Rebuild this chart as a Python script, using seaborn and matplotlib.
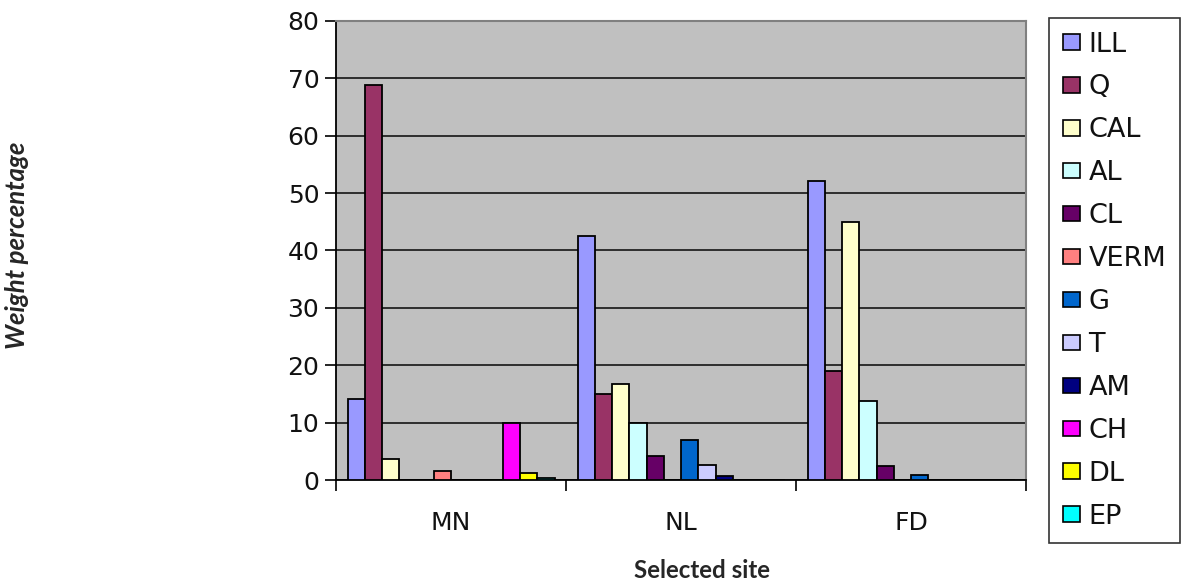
import numpy as np
import pandas as pd
import matplotlib
matplotlib.use("Agg")
import matplotlib.pyplot as plt
import seaborn as sns
from matplotlib.patches import Patch

# Mineral composition (weight %) at each selected site
sites = ["MN", "NL", "FD"]
minerals = ["ILL", "Q", "CAL", "AL", "CL", "VERM", "G", "T", "AM", "CH", "DL", "EP"]
mn_values = [14.1, 68.9, 3.7, 0.0, 0.0, 1.5, 0.0, 0.0, 0.0, 10.0, 1.2, 0.3]
nl_values = [42.6, 15.0, 16.8, 10.0, 4.2, 0.0, 7.0, 2.7, 0.7, 0.0, 0.0, 0.0]
fd_values = [52.2, 19.0, 45.0, 13.7, 2.4, 0.0, 0.9, 0.0, 0.0, 0.0, 0.0, 0.0]
mineral_colors = ["#9999FF", "#993366", "#FFFFCC", "#CCFFFF", "#660066", "#FF8080",
                  "#0066CC", "#CCCCFF", "#000080", "#FF00FF", "#FFFF00", "#00FFFF"]
y_ticks = [0, 10, 20, 30, 40, 50, 60, 70, 80]

rows = []
for site, vals in zip(sites, [mn_values, nl_values, fd_values]):
    for m, v in zip(minerals, vals):
        rows.append({"site": site, "mineral": m, "value": v})
df = pd.DataFrame(rows)

sns.set_theme(style="white")
plt.rcParams["font.family"] = ["DejaVu Sans"]

fig = plt.figure(figsize=(11.97, 5.84), dpi=100)
ax = fig.add_axes([336 / 1197, 1 - 480 / 584, 690 / 1197, 459 / 584])
ax.set_facecolor("#C0C0C0")

sns.barplot(data=df, x="site", y="value", hue="mineral", order=sites,
            hue_order=minerals, palette=mineral_colors, width=0.9, gap=0,
            edgecolor="black", linewidth=1.3, saturation=1, legend=False,
            errorbar=None, ax=ax, zorder=3)

ax.set_ylim(0, 80)
ax.set_xlim(-0.5, 2.5)
ax.set_yticks(y_ticks)
ax.yaxis.grid(True, color="#222222", linewidth=1.3, zorder=0)
ax.set_axisbelow(True)
ax.set_xlabel("")
ax.set_ylabel("")

for side in ["left", "bottom"]:
    ax.spines[side].set_color("black")
    ax.spines[side].set_linewidth(1.3)
for side in ["top", "right"]:
    ax.spines[side].set_color("#808080")
    ax.spines[side].set_linewidth(1.5)

ax.tick_params(axis="y", which="major", direction="out", length=8, width=1.2,
               color="black", labelsize=18, pad=4, left=True, labelcolor="#111111")
ax.tick_params(axis="x", which="major", length=0, labelsize=18, pad=22,
               labelcolor="#111111")
ax.set_xticks([-0.5, 0.5, 1.5, 2.5], minor=True)
ax.tick_params(axis="x", which="minor", direction="out", length=8, width=1.2,
               color="black", bottom=True)

handles = [Patch(facecolor=c, edgecolor="black", linewidth=1.2) for c in mineral_colors]
leg = fig.legend(handles, minerals, loc="upper left",
                 bbox_to_anchor=(1049 / 1197, 1 - 18 / 584),
                 bbox_transform=fig.transFigure, fontsize=19.5, frameon=True,
                 fancybox=False, edgecolor="black", facecolor="white",
                 handlelength=0.66, handleheight=0.5, handletextpad=0.3,
                 labelspacing=0.625, borderpad=0.5, borderaxespad=0)
leg.get_frame().set_linewidth(1.2)
for t in leg.get_texts():
    t.set_color("#111111")

fig.text(702 / 1197, 1 - 571 / 584, "Selected site", ha="center", va="center",
         fontsize=17.4, fontweight="bold", family=["Lato", "DejaVu Sans"])
fig.text(17 / 1197, 1 - 245 / 584, "Weight percentage", ha="center", va="center",
         rotation=90, fontsize=18.5, fontweight="bold", fontstyle="italic",
         family=["Lato", "DejaVu Sans"])

fig.savefig("out.png", dpi=100, facecolor="white")
